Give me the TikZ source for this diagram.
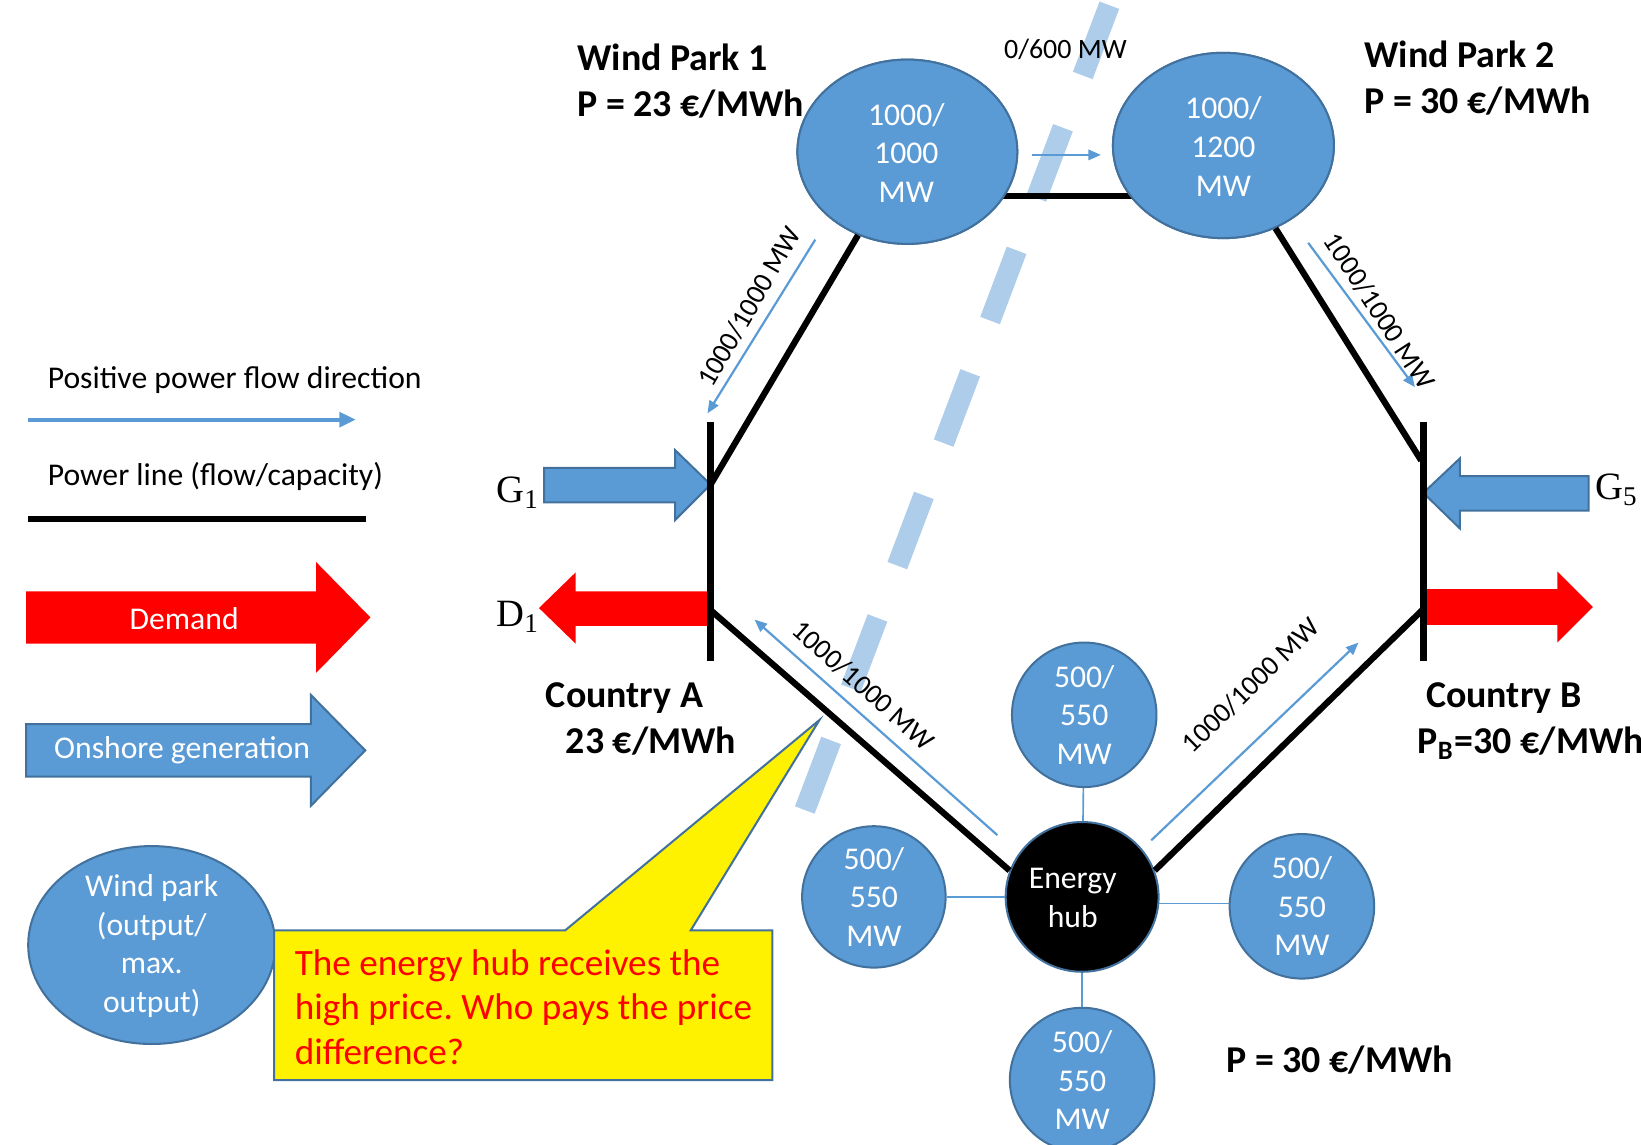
\documentclass[tikz,border=0pt]{standalone}
\usepackage{fontspec}
\setmainfont{Carlito}
\newfontfamily\timesfont{Liberation Serif}
\usetikzlibrary{arrows.meta, positioning, shapes.geometric, calc}
\frenchspacing

\definecolor{parkblue}{HTML}{5B9BD5}
\definecolor{edgeblue}{HTML}{41719C}
\definecolor{cutblue}{HTML}{ADCDEA}

\tikzset{
  small/.style={font=\fontsize{8.6}{10.5}\selectfont, inner sep=0pt},
  heading/.style={font=\bfseries\fontsize{10.3}{12.5}\selectfont, inner sep=0pt, align=left},
  flowlabel/.style={font=\fontsize{7.6}{9}\selectfont, inner sep=0pt},
  gen/.style={font=\timesfont\fontsize{10.5}{12}\selectfont, inner sep=0pt},
  park/.style={ellipse, draw=edgeblue, fill=parkblue, line width=0.55pt, inner sep=0pt},
  parktext/.style={small, text=white, align=center},
  powerline/.style={line width=1.7pt},
  bus/.style={line width=2pt},
  flow/.style={draw=parkblue, line width=0.6pt, -{Triangle[length=3.4pt,width=2.8pt]}},
  feeder/.style={draw=parkblue, line width=0.45pt},
  onshore/.style={fill=parkblue, draw=edgeblue, line width=0.55pt},
  demand/.style={fill=red},
  notetext/.style={font=\fontsize{10.1}{12.1}\selectfont, text=red, align=left, inner sep=0pt},
}

\begin{document}
\begin{tikzpicture}[x=0.01cm, y=-0.01cm]
  \useasboundingbox (0,0) rectangle (1568,1094);
  \clip (0,0) rectangle (1568,1094);

  % cut through the grid
  \draw[cutblue, line width=5.7pt, dash pattern=on 20.4pt off 15.2pt] (1060,5) -- (769,774);

  % legend
  \node[small, anchor=west] (leg-flow) at (45,363) {Positive power flow direction};
  \draw[draw=parkblue, line width=1.1pt, -{Triangle[length=4.5pt,width=4pt]}] (27,401) -- (340,401);
  \node[small, anchor=west] (leg-line) at (45,455) {Power line (flow/capacity)};
  \draw[line width=1.8pt] (27,496) -- (350,496);
  \fill[demand] (25,565) -- (302,565) -- (302,537) -- (354,590) -- (302,643) -- (302,615) -- (25,615) -- cycle;
  \node[small, text=white] (leg-demand) at (176,591) {Demand};
  \filldraw[onshore] (25,692) -- (297,692) -- (297,664) -- (349,717) -- (297,770) -- (297,742) -- (25,742) -- cycle;
  \node[small, text=white] (leg-onshore) at (174,717) {Onshore generation};
  \node[park, minimum width=2.36cm, minimum height=1.89cm] (leg-park) at (145,903) {};
  \node[parktext] (leg-parktext) at (145,904) {Wind park\\(output/\\max.\\output)};

  % wind parks
  \node[park, minimum width=2.10cm, minimum height=1.76cm] (wp1) at (867,145) {};
  \node[park, minimum width=2.11cm, minimum height=1.77cm] (wp2) at (1169,139) {};
  \draw[powerline] ($(wp1)+(0,42)$) -- ($(wp2)+(0,48)$);
  \node[park, minimum width=2.10cm, minimum height=1.76cm] at (wp1) {};
  \node[park, minimum width=2.11cm, minimum height=1.77cm] at (wp2) {};
  \node[parktext] (wp1-text) at (866,146) {1000/\\1000\\MW};
  \node[parktext] (wp2-text) at (1169,140) {1000/\\1200\\MW};
  \node[heading, anchor=west] (wp1-name) at (551,77) {Wind Park 1\\P = 23 €/MWh};
  \node[heading, anchor=west] (wp2-name) at (1303,75) {Wind Park 2\\P = 30 €/MWh};
  \node[flowlabel] (link-label) at (1018,47) {0/600 MW};
  \draw[flow] (986,148) -- (1052,148);

  % country A
  \coordinate (a-top) at (679,403);
  \coordinate (a-bot) at (679,632);
  \coordinate (a-g) at (679,463);
  \coordinate (a-d) at (679,583);
  \filldraw[onshore] (520,447) -- (645,447) -- (645,430) -- (679,463) -- (645,497) -- (645,480) -- (520,480) -- cycle;
  \fill[demand] (679,565) -- (550,565) -- (550,547) -- (515,581) -- (550,615) -- (550,598) -- (679,598) -- cycle;
  \draw[bus] (a-top) -- (a-bot);
  \node[gen] (g1) at (495,471) {G\textsubscript{1}};
  \node[gen] (d1) at (495,589) {D\textsubscript{1}};
  \node[heading, anchor=west] (ca) at (521,687) {Country A\\\hspace*{0.19cm}23 €/MWh};

  % country B
  \coordinate (b-top) at (1360,403);
  \coordinate (b-bot) at (1360,632);
  \coordinate (b-w) at (1358,440);
  \coordinate (b-d) at (1360,582);
  \filldraw[onshore] (1518,455) -- (1395,455) -- (1395,438) -- (1360,471) -- (1395,505) -- (1395,488) -- (1518,488) -- cycle;
  \fill[demand] (1362,563) -- (1488,563) -- (1488,546) -- (1522,580) -- (1488,614) -- (1488,597) -- (1362,597) -- cycle;
  \draw[bus] (b-top) -- (b-bot);
  \node[gen] (g5) at (1545,468) {G\textsubscript{5}};
  \node[heading, anchor=west] (cb) at (1354,689) {\hspace*{0.08cm}Country B\\P\textsubscript{B}=30 €/MWh};

  % energy hub and its parks
  \node[park, fill=black, minimum width=1.46cm, minimum height=1.43cm] (hub) at (1034,857) {};
  \node[parktext] (hub-text) at (1025,858) {Energy\\hub};
  \node[park, minimum size=1.38cm] (hp-top) at (1036,683) {};
  \node[park, minimum width=1.37cm, minimum height=1.35cm] (hp-left) at (835,857) {};
  \node[park, minimum size=1.38cm] (hp-right) at (1244,866) {};
  \node[park, minimum size=1.38cm] (hp-bot) at (1034,1032) {};
  \foreach \p in {top,left,right,bot}
    \node[parktext] at (hp-\p) {500/\\550\\MW};
  \draw[feeder] (hub) -- (hp-top);
  \draw[feeder] (hub.west) -- (hp-left);
  \draw[feeder] (hub.-5) -- (hp-right.west |- hub.-5);
  \draw[feeder] (hub) -- (hp-bot);
  \node[heading] (hub-price) at (1280,1013) {P = 30 €/MWh};

  % power lines
  \draw[powerline] (wp1) -- (a-g);
  \draw[powerline] (wp2) -- (b-w);
  \draw[powerline] (a-d) -- (hub.160);
  \draw[powerline] (hub.20) -- (b-d);
  \draw[flow] (779,229) -- (676,395);
  \draw[flow] (1250,232) -- (1352,370);
  \draw[flow] (953,798) -- (721,592);
  \draw[flow] (1100,803) -- (1298,614);
  \node[flowlabel, rotate=60] (l-wa) at (716,293) {1000/1000 MW};
  \node[flowlabel, rotate=-57] (l-wb) at (1318,297) {1000/1000 MW};
  \node[flowlabel, rotate=-41.6] (l-ah) at (825,655) {1000/1000 MW};
  \node[flowlabel, rotate=44.4] (l-hb) at (1195,655) {1000/1000 MW};

  % remark
  \filldraw[fill=yellow, draw=edgeblue, line width=0.55pt] (262,889) -- (540,889) -- (783,688) -- (660,889) -- (738,889) -- (738,1032) -- (262,1032) -- cycle;
  \node[notetext, anchor=west] (note) at (281,962) {The energy hub receives the\\high price. Who pays the price\\difference?};
\end{tikzpicture}
\end{document}
